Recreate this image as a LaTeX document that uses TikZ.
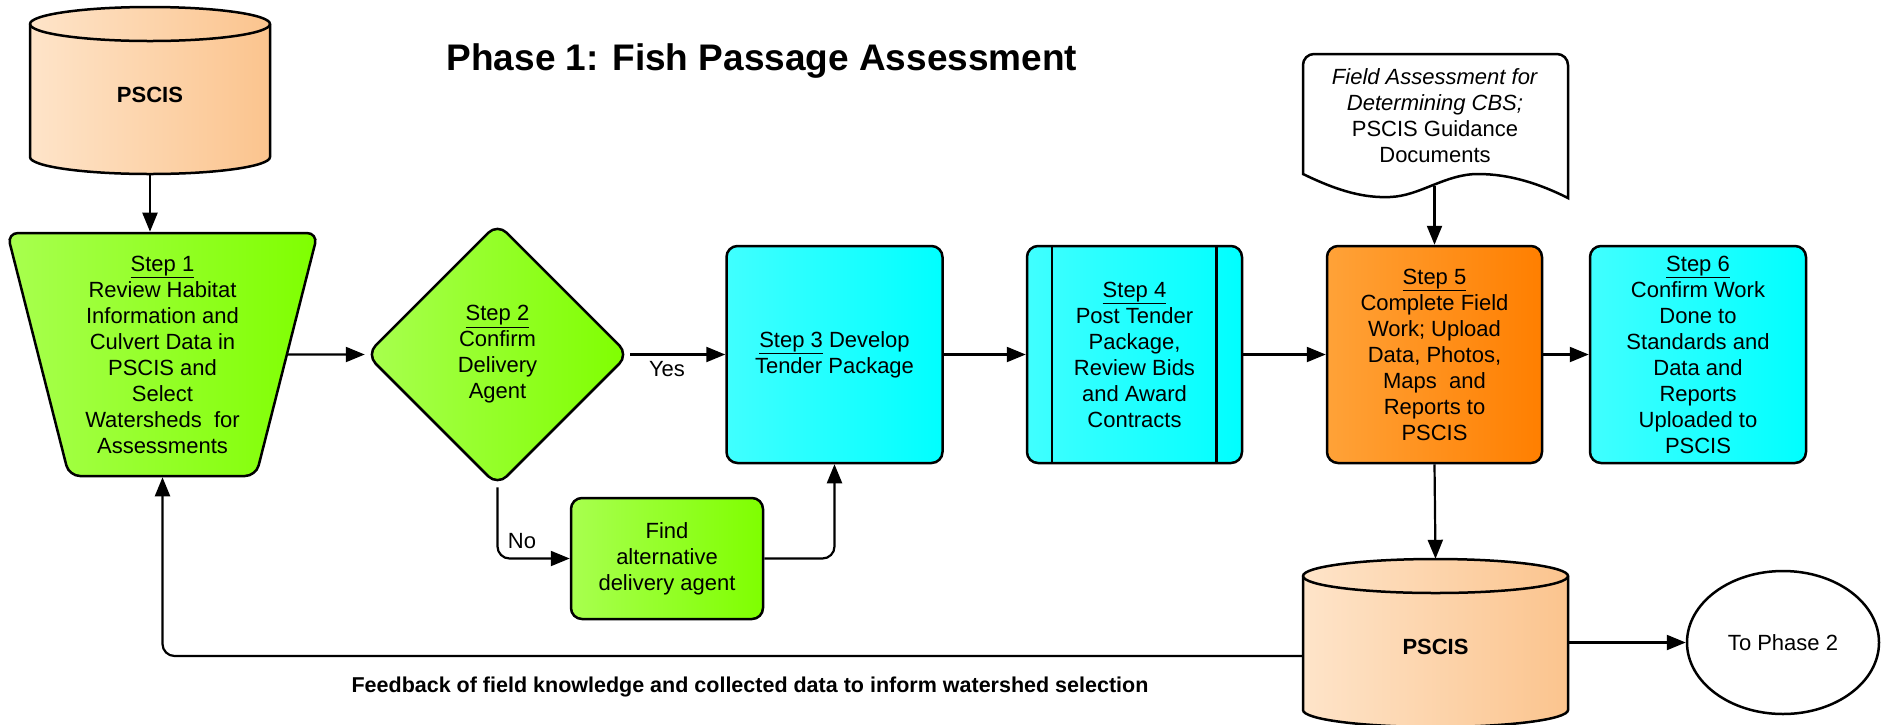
\documentclass[tikz,border=0pt]{standalone}
\usepackage{fontspec}
\setmainfont{Liberation Sans}
\usetikzlibrary{shapes.geometric,arrows.meta}
\definecolor{peachL}{HTML}{FEE4C9}
\definecolor{peachR}{HTML}{FBC48E}
\definecolor{greenL}{HTML}{A8FF4F}
\definecolor{greenR}{HTML}{7FFF00}
\definecolor{cyanL}{HTML}{40FFFF}
\definecolor{cyanR}{HTML}{00FFFF}
\definecolor{orangeL}{HTML}{FFA238}
\definecolor{orangeR}{HTML}{FF7F00}
\begin{document}
\begin{tikzpicture}[x=1pt,y=-1pt,
  txt/.style={align=center,font=\fontsize{22}{26}\selectfont,inner sep=0pt},
  outl/.style={draw=black,line width=2.5pt},
  box/.style={outl,txt,rounded corners=11pt,minimum width=216pt,minimum height=217pt},
  cyanbox/.style={box,left color=cyanL,right color=cyanR},
  greenfill/.style={left color=greenL,right color=greenR},
  arr/.style={draw=black,line width=2.2pt,-{Triangle[length=19pt,width=15pt]}},
  peach/.style={left color=peachL,right color=peachR}]
\useasboundingbox (0,0) rectangle (1885,724);

% title
\node[font=\bfseries\fontsize{37}{44}\selectfont,inner sep=0pt] (title) at (762,61) {Phase 1: Fish Passage Assessment};

% top cylinder
\path[peach] (30,24) -- (30,157) arc[start angle=180,end angle=0,x radius=120,y radius=17] -- (270,24) arc[start angle=0,end angle=-180,x radius=120,y radius=17] -- cycle;
\draw[outl] (30,24) -- (30,157) arc[start angle=180,end angle=0,x radius=120,y radius=17] -- (270,24) arc[start angle=0,end angle=-180,x radius=120,y radius=17] -- cycle;
\draw[outl] (30,24) arc[start angle=180,end angle=0,x radius=120,y radius=17];
\node[txt,font=\bfseries\fontsize{22}{26}\selectfont,minimum width=240pt,minimum height=158pt] (db1) at (150,95) {PSCIS};

% step 1 trapezoid
\node[trapezium,shape border rotate=180,trapezium left angle=75.5,trapezium right angle=75.5,
  trapezium stretches=true,minimum width=311pt,minimum height=243pt,outl,greenfill,txt,rounded corners=11pt]
  (s1) at (162.5,354.5) {\underline{Step 1}\\Review Habitat\\Information and\\Culvert Data in\\PSCIS and\\Select\\Watersheds\ \ for\\Assessments};

% step 2 diamond
\node[diamond,aspect=1,minimum width=263pt,minimum height=263pt,outl,greenfill,txt,rounded corners=13pt]
  (d2) at (497.5,354.5) {\underline{Step 2}\\Confirm\\Delivery\\Agent};

% steps 3-6
\node[cyanbox] (s3) at (834.5,354.5) {\underline{Step 3} Develop\\Tender Package};
\node[cyanbox,minimum width=215pt] (s4) at (1134.5,354.5) {\underline{Step 4}\\Post Tender\\Package,\\Review Bids\\and Award\\Contracts};
\draw[outl] ([xshift=26pt]s4.north west) -- ([xshift=26pt]s4.south west);
\draw[outl] ([xshift=-27pt]s4.north east) -- ([xshift=-27pt]s4.south east);
\node[box,minimum width=215pt,left color=orangeL,right color=orangeR] (s5) at (1434.5,354.5) {\underline{Step 5}\\Complete Field\\Work; Upload\\Data, Photos,\\Maps\ \ and\\Reports to\\PSCIS};
\node[cyanbox] (s6) at (1698,354.5) {\underline{Step 6}\\Confirm Work\\Done to\\Standards and\\Data and\\Reports\\Uploaded to\\PSCIS};

% document
\draw[outl,fill=white] (1303,174) [rounded corners=11pt] -- (1303,54) -- (1568,54) -- (1568,120) [sharp corners] -- (1568,198)
  .. controls (1540,184) and (1510,174) .. (1478,174)
  .. controls (1445,174) and (1420,196) .. (1390,197)
  .. controls (1365,198) and (1340,192) .. (1303,174) -- cycle;
\node[txt] (doc) at (1435,116) {\textit{Field Assessment for}\\\textit{Determining CBS;}\\PSCIS Guidance\\Documents};
\coordinate (docb) at (1434.5,186);

% find alternative
\node[outl,greenfill,txt,rounded corners=11pt,minimum width=192pt,minimum height=121pt] (find) at (667,558.5) {Find\\alternative\\delivery agent};

% bottom cylinder
\path[peach] (1303,576) -- (1303,710) arc[start angle=180,end angle=0,x radius=132.5,y radius=17] -- (1568,576) arc[start angle=0,end angle=-180,x radius=132.5,y radius=17] -- cycle;
\draw[outl] (1303,576) -- (1303,710) arc[start angle=180,end angle=0,x radius=132.5,y radius=17] -- (1568,576) arc[start angle=0,end angle=-180,x radius=132.5,y radius=17] -- cycle;
\draw[outl] (1303,576) arc[start angle=180,end angle=0,x radius=132.5,y radius=17];
\node[txt,font=\bfseries\fontsize{22}{26}\selectfont,minimum width=265pt,minimum height=176pt] (db2) at (1435.5,647) {PSCIS};

% to phase 2
\node[ellipse,outl,fill=white,txt,minimum width=192pt,minimum height=143pt] (ph2) at (1783,642.5) {To Phase 2};

% connectors
\draw[arr] (db1.south) -- (db1.south |- s1.north);
\draw[arr] (s1.east) -- (d2.west);
\draw[arr] (d2.east) -- (s3.west);
\node[txt] (yes) at (667,369) {Yes};
\draw[arr,rounded corners=12pt] (d2.south) |- (find.west);
\node[txt] (no) at (522,541) {No};
\draw[arr,rounded corners=12pt] (find.east) -| (s3.south);
\draw[arr] (s3.east) -- (s4.west);
\draw[arr] (s4.east) -- (s5.west);
\draw[arr] (s5.east) -- (s6.west);
\draw[arr] (docb) -- (docb |- s5.north);
\draw[arr] (s5.south) -- (db2.north);
\draw[arr] (db2.east |- ph2.west) -- (ph2.west);
\draw[arr,rounded corners=12pt] ([yshift=-9pt]db2.west) -| (s1.south);
\node[font=\bfseries\fontsize{21.5}{26}\selectfont,inner sep=0pt] (fb) at (750,687) {Feedback of field knowledge and collected data to inform watershed selection};
\end{tikzpicture}
\end{document}
